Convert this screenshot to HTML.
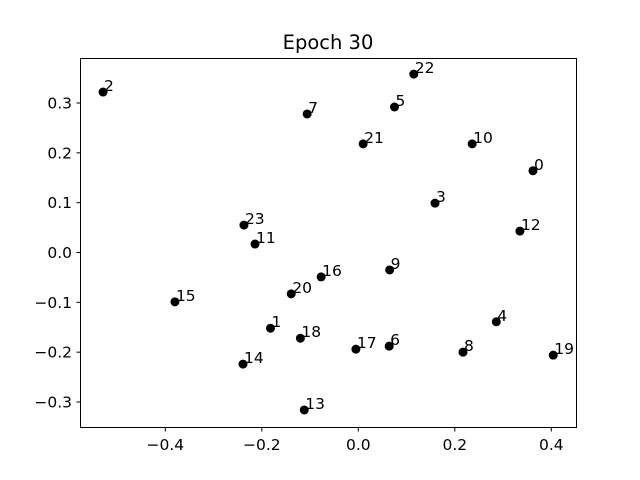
<!DOCTYPE html>
<html><head><meta charset="utf-8"><style>body{margin:0;background:#fff}svg{display:block}text{font-family:"DejaVu Sans","Liberation Sans",sans-serif}</style></head>
<body>
<svg id="chart" width="640" height="480">
<text x="328" y="49" text-anchor="middle" font-size="19.5">Epoch 30</text>
<g id="plot"></g>
<rect x="80.5" y="58.5" width="496" height="369" fill="none" stroke="#000" stroke-width="1"/>
</svg>
<script>
const labels = ["0","1","2","3","4","5","6","7","8","9","10","11","12","13","14","15","16","17","18","19","20","21","22","23"];
const xs = [0.362,-0.182,-0.529,0.159,0.286,0.075,0.064,-0.106,0.217,0.065,0.236,-0.214,0.335,-0.112,-0.239,-0.380,-0.077,-0.005,-0.120,0.404,-0.139,0.010,0.115,-0.237];
const ys = [0.164,-0.152,0.322,0.099,-0.139,0.292,-0.188,0.278,-0.200,-0.035,0.218,0.017,0.043,-0.316,-0.224,-0.099,-0.049,-0.194,-0.172,-0.206,-0.083,0.218,0.358,0.055];
const xTicks = [-0.4,-0.2,0.0,0.2,0.4];
const yTicks = [-0.3,-0.2,-0.1,0.0,0.1,0.2,0.3];
const X = v => 358.3 + v*482.5;
const Y = v => 252.5 - v*498.3;
const ns = "http://www.w3.org/2000/svg";
const g = document.getElementById('plot');
function mk(t, a){const e=document.createElementNS(ns,t);for(const k in a)e.setAttribute(k,a[k]);g.appendChild(e);return e;}
xTicks.forEach(v=>{
  const l=mk('line',{x1:X(v),x2:X(v),y1:427.5,y2:431.5,stroke:'#000'});
  
  
  const t=mk('text',{x:X(v),y:450,'text-anchor':'middle','font-size':'15.5'});
  t.textContent=(v<0?'\u2212':'')+Math.abs(v).toFixed(1);
  
  
});
yTicks.forEach(v=>{
  const l=mk('line',{x1:76.5,x2:80.5,y1:Y(v),y2:Y(v),stroke:'#000'});
  
  
  const t=mk('text',{x:72,y:Y(v)+5.5,'text-anchor':'end','font-size':'15.5'});
  t.textContent=(v<0?'\u2212':'')+Math.abs(v).toFixed(1);
  
  
});
labels.forEach((lb,i)=>{
  const c=mk('circle',{cx:X(xs[i]),cy:Y(ys[i]),r:4.5,fill:'#000'});
  
  
  const t=mk('text',{x:X(xs[i])+1,y:Y(ys[i])-1,'font-size':'15.5'});
  t.textContent=lb;
  
  
});
</script>
</body></html>
